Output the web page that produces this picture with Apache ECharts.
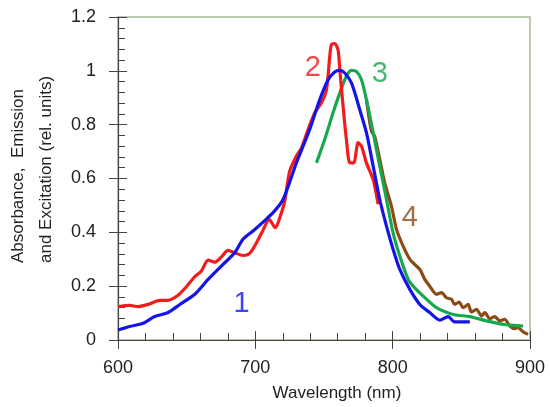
<!DOCTYPE html>
<html>
<head>
<meta charset="utf-8">
<script src="https://cdn.jsdelivr.net/npm/echarts@6/dist/echarts.min.js"></script>
<style>
html,body{margin:0;padding:0;background:#fff;}
#main{width:550px;height:407px;}
</style>
</head>
<body>
<div id="main"></div>
<script>
// 1 - absorbance (blue)
var wl1 = [600,608.5,618.2,626.7,636.4,645,655.9,665.6,676.5,685,691,698.3,705.6,712.9,720.2,729.9,739.6,746.9,753,757.8,761.5,765.1,770,776,780.9,785.8,790.6,795.5,800.3,805.2,812.5,819.8,827,834.3,840.3,845.2,856.2];
var val1 = [0.037,0.05,0.062,0.087,0.102,0.132,0.17,0.225,0.281,0.324,0.374,0.405,0.438,0.473,0.522,0.658,0.782,0.893,0.967,0.996,1.002,0.992,0.955,0.856,0.77,0.646,0.522,0.423,0.337,0.262,0.188,0.132,0.102,0.074,0.087,0.067,0.067];
// 2 - emission (red)
var wl2 = [600,608.5,614.6,623,630.4,636.4,643.7,649.8,655.9,660.7,665.6,670.4,675.3,680.1,685,691,695.9,700.8,705.6,710,714.6,717.8,721.4,725,729.9,733.6,738.4,743.3,748.1,751.8,754.2,755.4,757.8,760.2,761.5,763.9,766.3,768.8,771.7,774.8,777.3,780.9,785.8,789.4];
var val2 = [0.124,0.129,0.124,0.134,0.147,0.147,0.166,0.198,0.235,0.256,0.297,0.289,0.309,0.333,0.324,0.314,0.322,0.361,0.408,0.448,0.417,0.454,0.516,0.627,0.683,0.714,0.782,0.844,0.881,0.93,1.054,1.097,1.101,1.079,1.005,0.868,0.745,0.658,0.658,0.733,0.72,0.658,0.596,0.504];
// 3 - excitation (green)
var wl3 = [744.5,750.5,756.6,761.5,766.3,770,773.6,777.3,780.9,785.8,790.6,795.5,800.3,805.2,811.3,814.9,822.2,831.9,844,856.2,868.3,880.4,895];
var val3 = [0.658,0.745,0.844,0.918,0.98,1.002,0.998,0.967,0.893,0.77,0.646,0.522,0.398,0.312,0.225,0.2,0.163,0.12,0.095,0.087,0.071,0.058,0.052];
// 4 - excitation tail (brown)
var wl4 = [780.9,784.5,786.9,790.6,794.2,799.1,802.8,807.6,812.5,816,819.8,823.4,827,831.9,835.5,839.2,842.8,845.2,848.4,851.3,854.9,857.4,861,864.7,867.1,870.7,874.4,878,881.6,885.3,888.9,891.3,895,898.6];
var val4 = [0.893,0.776,0.757,0.671,0.584,0.497,0.411,0.349,0.3,0.281,0.262,0.225,0.2,0.17,0.176,0.157,0.151,0.132,0.141,0.12,0.132,0.104,0.114,0.089,0.102,0.079,0.087,0.071,0.077,0.052,0.042,0.046,0.03,0.021];

var tagText = ['1','2','3','4'];
var tagX = [690,741.8,790.6,812.5];
var tagY = [0.132,1.012,0.99,0.452];
var colors = ['#1414e6','#f21c1c','#17a84f','#8b4a16'];

function zip(a, b){
    var out = [];
    for(var i = 0;i<a.length;i++){
        out.push([a[i], b[i]]);
    }
    return out;
}

var curves = [zip(wl1,val1), zip(wl2,val2), zip(wl3,val3), zip(wl4,val4)];
var series = [];
for(var i = 0;i<curves.length;i++){
    series.push({
        type:'line',
        data:curves[i],
        showSymbol:false,
        smooth:0.25,
        lineStyle:{color:colors[i], width:3.2},
        z:10 - i
    });
}
// curve numbers
var tags = [];
for(var i = 0;i<tagText.length;i++){
    tags.push({
        value:[tagX[i], tagY[i]],
        label:{show:true, formatter:tagText[i], color:colors[i], fontSize:29, position:'inside', fontFamily:'Liberation Sans, Arial'}
    });
}
series.push({type:'scatter', symbolSize:1, itemStyle:{color:'rgba(0,0,0,0)'}, data:tags, z:20, silent:true});

var axisCol = '#444';
var labelStyle = {fontSize:18, color:'#222', fontFamily:'Liberation Sans, Arial'};

var myChart = echarts.init(document.getElementById('main'));
myChart.setOption({
    animation:false,
    grid:{left:118, right:20, top:17, bottom:66, show:true, borderColor:'#a5bb96', borderWidth:1.5},
    xAxis:[{
        type:'value', min:600, max:900, interval:100,
        axisLine:{lineStyle:{color:axisCol, width:1.2}},
        axisTick:{length:9, lineStyle:{color:axisCol}},
        axisLabel:Object.assign({margin:19}, labelStyle),
        splitLine:{show:false},
        name:'Wavelength (nm)', nameLocation:'middle', nameGap:45,
        nameTextStyle:{fontSize:17, color:'#222', fontFamily:'Liberation Sans, Arial', padding:[0,0,0,26]}
    },{
        type:'value', min:600, max:900, interval:100, position:'bottom',
        axisLine:{show:false},
        axisTick:{inside:true, length:9, lineStyle:{color:axisCol}},
        minorTick:{show:true, splitNumber:5, length:7, lineStyle:{color:axisCol}},
        axisLabel:{show:false},
        splitLine:{show:false}
    }],
    yAxis:[{
        type:'value', min:0, max:1.2, interval:0.2,
        axisLine:{show:true, lineStyle:{color:axisCol, width:1.2}},
        axisTick:{show:true, length:9, lineStyle:{color:axisCol}},
        axisLabel:Object.assign({margin:22}, labelStyle),
        splitLine:{show:false}
    },{
        type:'value', min:0, max:1.2, interval:0.2, position:'left',
        axisLine:{show:false},
        axisTick:{show:true, inside:true, length:9, lineStyle:{color:axisCol}},
        minorTick:{show:true, splitNumber:5, length:7, lineStyle:{color:axisCol}},
        axisLabel:{show:false},
        splitLine:{show:false}
    }],
    graphic:[{
        type:'text', x:18, y:263, rotation:Math.PI/2,
        style:{text:'Absorbance,  Emission', fontSize:17, fill:'#222', fontFamily:'Liberation Sans, Arial', align:'left', verticalAlign:'middle'}
    },{
        type:'text', x:46, y:263, rotation:Math.PI/2,
        style:{text:'and Excitation (rel. units)', fontSize:17, fill:'#222', fontFamily:'Liberation Sans, Arial', align:'left', verticalAlign:'middle'}
    }],
    series:series
});
</script>
</body>
</html>
